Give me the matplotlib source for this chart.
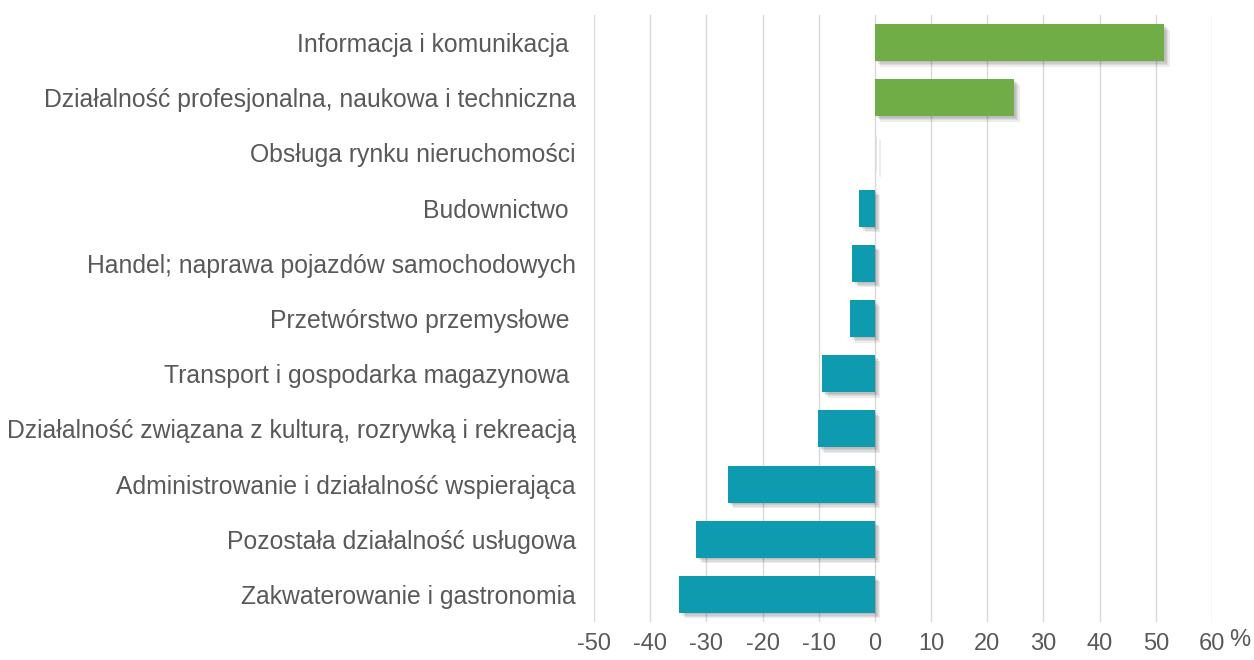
import matplotlib
matplotlib.use("Agg")
import matplotlib.pyplot as plt
import matplotlib.patheffects as pe

categories = [
    "Informacja i komunikacja ",
    "Działalność profesjonalna, naukowa i techniczna",
    "Obsługa rynku nieruchomości",
    "Budownictwo ",
    "Handel; naprawa pojazdów samochodowych",
    "Przetwórstwo przemysłowe ",
    "Transport i gospodarka magazynowa ",
    "Działalność związana z kulturą, rozrywką i rekreacją",
    "Administrowanie i działalność wspierająca",
    "Pozostała działalność usługowa",
    "Zakwaterowanie i gastronomia",
]
values = [51.5, 24.8, 0.1, -2.8, -4.0, -4.5, -9.4, -10.1, -26.2, -31.8, -34.8]
ticks = [-50, -40, -30, -20, -10, 0, 10, 20, 30, 40, 50, 60]

green = "#70AD47"
teal = "#0E9BB0"
text_col = "#595959"

plt.rcParams['font.family'] = ['Liberation Sans', 'DejaVu Sans']

fig = plt.figure(figsize=(12.54, 6.6), dpi=100)
ax = fig.add_axes([594/1254, 1 - 622/660, (1212-594)/1254, (622-15)/660])

ypos = list(range(len(categories)))
colors = [green if v > 0 else teal for v in values]
bars = ax.barh(ypos, values, height=0.67, color=colors, zorder=3)
shadow = [pe.SimplePatchShadow(offset=(o, -o), alpha=0.07, shadow_rgbFace="black")
          for o in (1, 2, 3, 4)]
for b in bars:
    b.set_path_effects(shadow + [pe.Normal()])

ax.set_xlim(-50, 60)
ax.set_ylim(len(categories) - 0.5, -0.5)
ax.set_xticks(ticks)
ax.set_xticklabels([str(t) for t in ticks], fontsize=17, color=text_col)
ax.set_yticks(ypos)
ax.set_yticklabels(categories, fontsize=17.8, color=text_col)
ax.tick_params(axis='both', length=0)
ax.tick_params(axis='y', pad=13)
ax.tick_params(axis='x', pad=8)
ax.grid(axis='x', color="#D9D9D9", linewidth=1, zorder=0)
ax.grid(axis='y', visible=False)
for s in ax.spines.values():
    s.set_visible(False)

ax.text(1240/1254, 1 - 640/660, "%", transform=fig.transFigure, fontsize=17,
        color=text_col, ha='center', va='center')

fig.savefig("out.png", dpi=100)
